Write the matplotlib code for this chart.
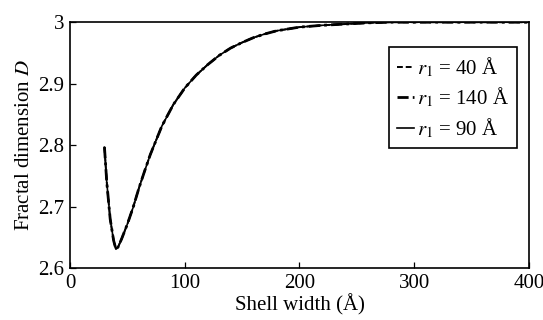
import matplotlib
matplotlib.use('Agg')
import matplotlib.pyplot as plt

plt.rcParams['font.family'] = ['Liberation Serif', 'DejaVu Serif']
plt.rcParams['mathtext.fontset'] = 'stix'

# shell width (Å) and fractal dimension
shell_width = [30, 32, 35, 38, 40, 42, 45, 50, 55, 60, 65, 70, 80, 90, 100,
               110, 120, 130, 140, 150, 160, 170, 180, 200, 220, 240, 260,
               280, 300, 350, 400]
d_r40 = [2.797, 2.74, 2.68, 2.645, 2.631, 2.635, 2.648, 2.672, 2.699, 2.730,
         2.758, 2.785, 2.831, 2.866, 2.893, 2.914, 2.931, 2.946, 2.958, 2.967,
         2.975, 2.981, 2.986, 2.992, 2.995, 2.997, 2.999, 3.0, 3.0, 3.0, 3.0]
d_r140 = list(d_r40)
d_r90 = list(d_r40)

labels = [r'$r_1$ = 40 Å', r'$r_1$ = 140 Å', r'$r_1$ = 90 Å']

fig = plt.figure(figsize=(5.43, 3.2), dpi=100)
ax = fig.add_axes([0.129, 0.1616, 0.845, 0.769])

ax.plot(shell_width, d_r90, color='black', lw=1.2, ls='-', label=labels[2])
ax.plot(shell_width, d_r40, color='black', lw=1.4, ls=(0, (3, 1.5)), label=labels[0])
ax.plot(shell_width, d_r140, color='black', lw=2.0, ls=(0, (4, 1.5, 1, 1.5)), label=labels[1])

ax.set_xlim(0, 400)
ax.set_ylim(2.6, 3.0)
ax.set_xticks([0, 100, 200, 300, 400])
ax.set_yticks([2.6, 2.7, 2.8, 2.9, 3.0])
ax.set_yticklabels(['2.6', '2.7', '2.8', '2.9', '3'])
ax.tick_params(direction='in', length=4, width=0.9, labelsize=15, colors='black', pad=4)
for s in ax.spines.values():
    s.set_linewidth(1.2)

ax.set_xlabel('Shell width (Å)', fontsize=15, labelpad=1)
ax.set_ylabel(r'Fractal dimension $D$', fontsize=15, labelpad=3)

handles, _ = ax.get_legend_handles_labels()
order = [1, 2, 0]
leg = ax.legend([handles[i] for i in order], labels, loc='upper right',
                bbox_to_anchor=(0.974, 0.898), fontsize=15,
                frameon=True, fancybox=False, edgecolor='black', framealpha=1,
                handlelength=0.8, handletextpad=0.15, borderpad=0.4,
                labelspacing=0.32, borderaxespad=0)
leg.get_frame().set_linewidth(1.2)

fig.savefig('out.png', dpi=100)
